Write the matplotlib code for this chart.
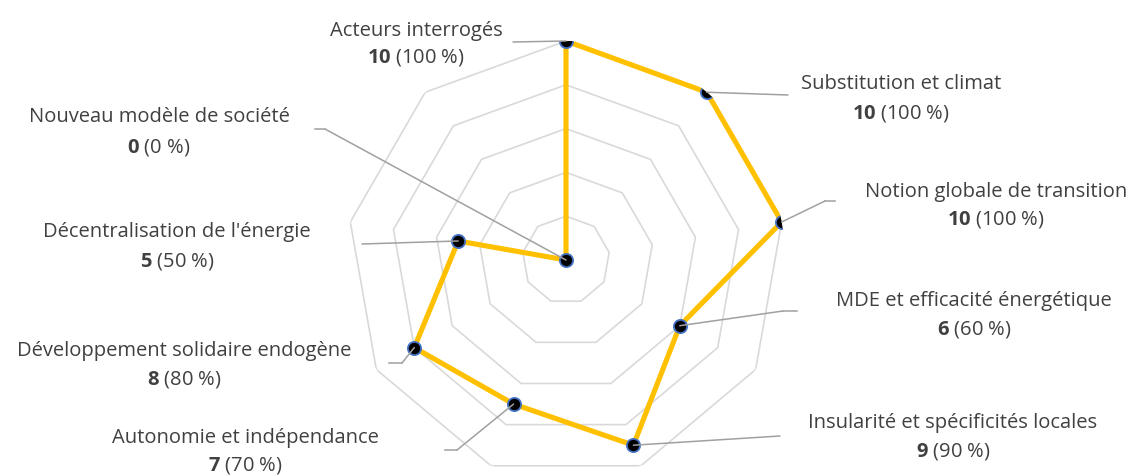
import numpy as np
import matplotlib
matplotlib.use('Agg')
import matplotlib.pyplot as plt
from matplotlib.lines import Line2D

plt.rcParams['font.family'] = ['Open Sans', 'DejaVu Sans']
plt.rcParams['mathtext.fontset'] = 'custom'
plt.rcParams['mathtext.rm'] = 'Open Sans'
plt.rcParams['mathtext.bf'] = 'Open Sans:bold'

# data
categories = ['Acteurs interrogés', 'Substitution et climat', 'Notion globale de transition',
              'MDE et efficacité énergétique', 'Insularité et spécificités locales',
              'Autonomie et indépendance', 'Développement solidaire endogène',
              "Décentralisation de l'énergie", 'Nouveau modèle de société']
values = [10, 10, 10, 6, 9, 7, 8, 5, 0]
percents = [100, 100, 100, 60, 90, 70, 80, 50, 0]
rings = [2, 4, 6, 8, 10]

W, H = 1138, 476
fig = plt.figure(figsize=(W / 100, H / 100), dpi=100)

# polar axes: center (566, 260), radius 219 px
cx, cy, R = 566, 260, 219
ax = fig.add_axes([(cx - R) / W, (H - cy - R) / H, 2 * R / W, 2 * R / H], projection='polar')
ax.set_theta_zero_location('N')
ax.set_theta_direction(-1)
ax.set_ylim(0, 10)
ax.set_axis_off()

n = len(categories)
theta = np.linspace(0, 2 * np.pi, n, endpoint=False)
tt = np.append(theta, theta[0])

for r in rings:
    ax.plot(tt, [r] * (n + 1), color='#d9d9d9', lw=1.2, zorder=1)

vv = values + values[:1]
ax.plot(tt, vv, color='#FFC000', lw=3.7, zorder=3, solid_joinstyle='miter')
ax.plot(theta, values, 'o', ms=9.5, mfc='black', mec='#4472C4', mew=1.3, zorder=4)

# label layout (image pixels): center x, baseline line1, baseline line2
label_pos = [(416, 36, 63), (901, 89, 119), (996, 197, 225), (974, 306, 335),
             (953, 428, 457), (245, 443, 470), (184, 356, 385), (177, 237, 267),
             (159, 122, 152)]
# leader lines: elbow, end (image pixels)
leaders = [((513, 42), (513, 42)), ((788, 95), (788, 95)), ((825, 201), (835, 201)),
           ((783, 311), (797, 311)), ((780, 436), (780, 436)), ((457, 450), (445, 450)),
           ((402, 363), (389, 363)), ((362, 244), (362, 244)), ((325, 129), (315, 129))]

txt = '#404040'
fs = 14.5
for cat, v, p, (lx, b1, b2) in zip(categories, values, percents, label_pos):
    fig.text(lx / W, 1 - b1 / H, cat, ha='center', va='baseline', fontsize=fs, color=txt)
    fig.text(lx / W, 1 - b2 / H, r'$\mathbf{%d}$ (%d %%)' % (v, p), ha='center', va='baseline',
             fontsize=fs, color=txt)

for th, v, (elb, end) in zip(theta, values, leaders):
    ax.annotate('', xy=(th, v), xytext=(elb[0], H - elb[1]), textcoords='figure pixels',
                arrowprops=dict(arrowstyle='-', color='#a0a0a0', lw=1.1, shrinkA=0, shrinkB=0),
                zorder=5, annotation_clip=False)
    fig.add_artist(Line2D([elb[0] / W, end[0] / W], [1 - elb[1] / H, 1 - end[1] / H],
                          color='#a0a0a0', lw=1.1))

fig.savefig('out.png', dpi=100)
